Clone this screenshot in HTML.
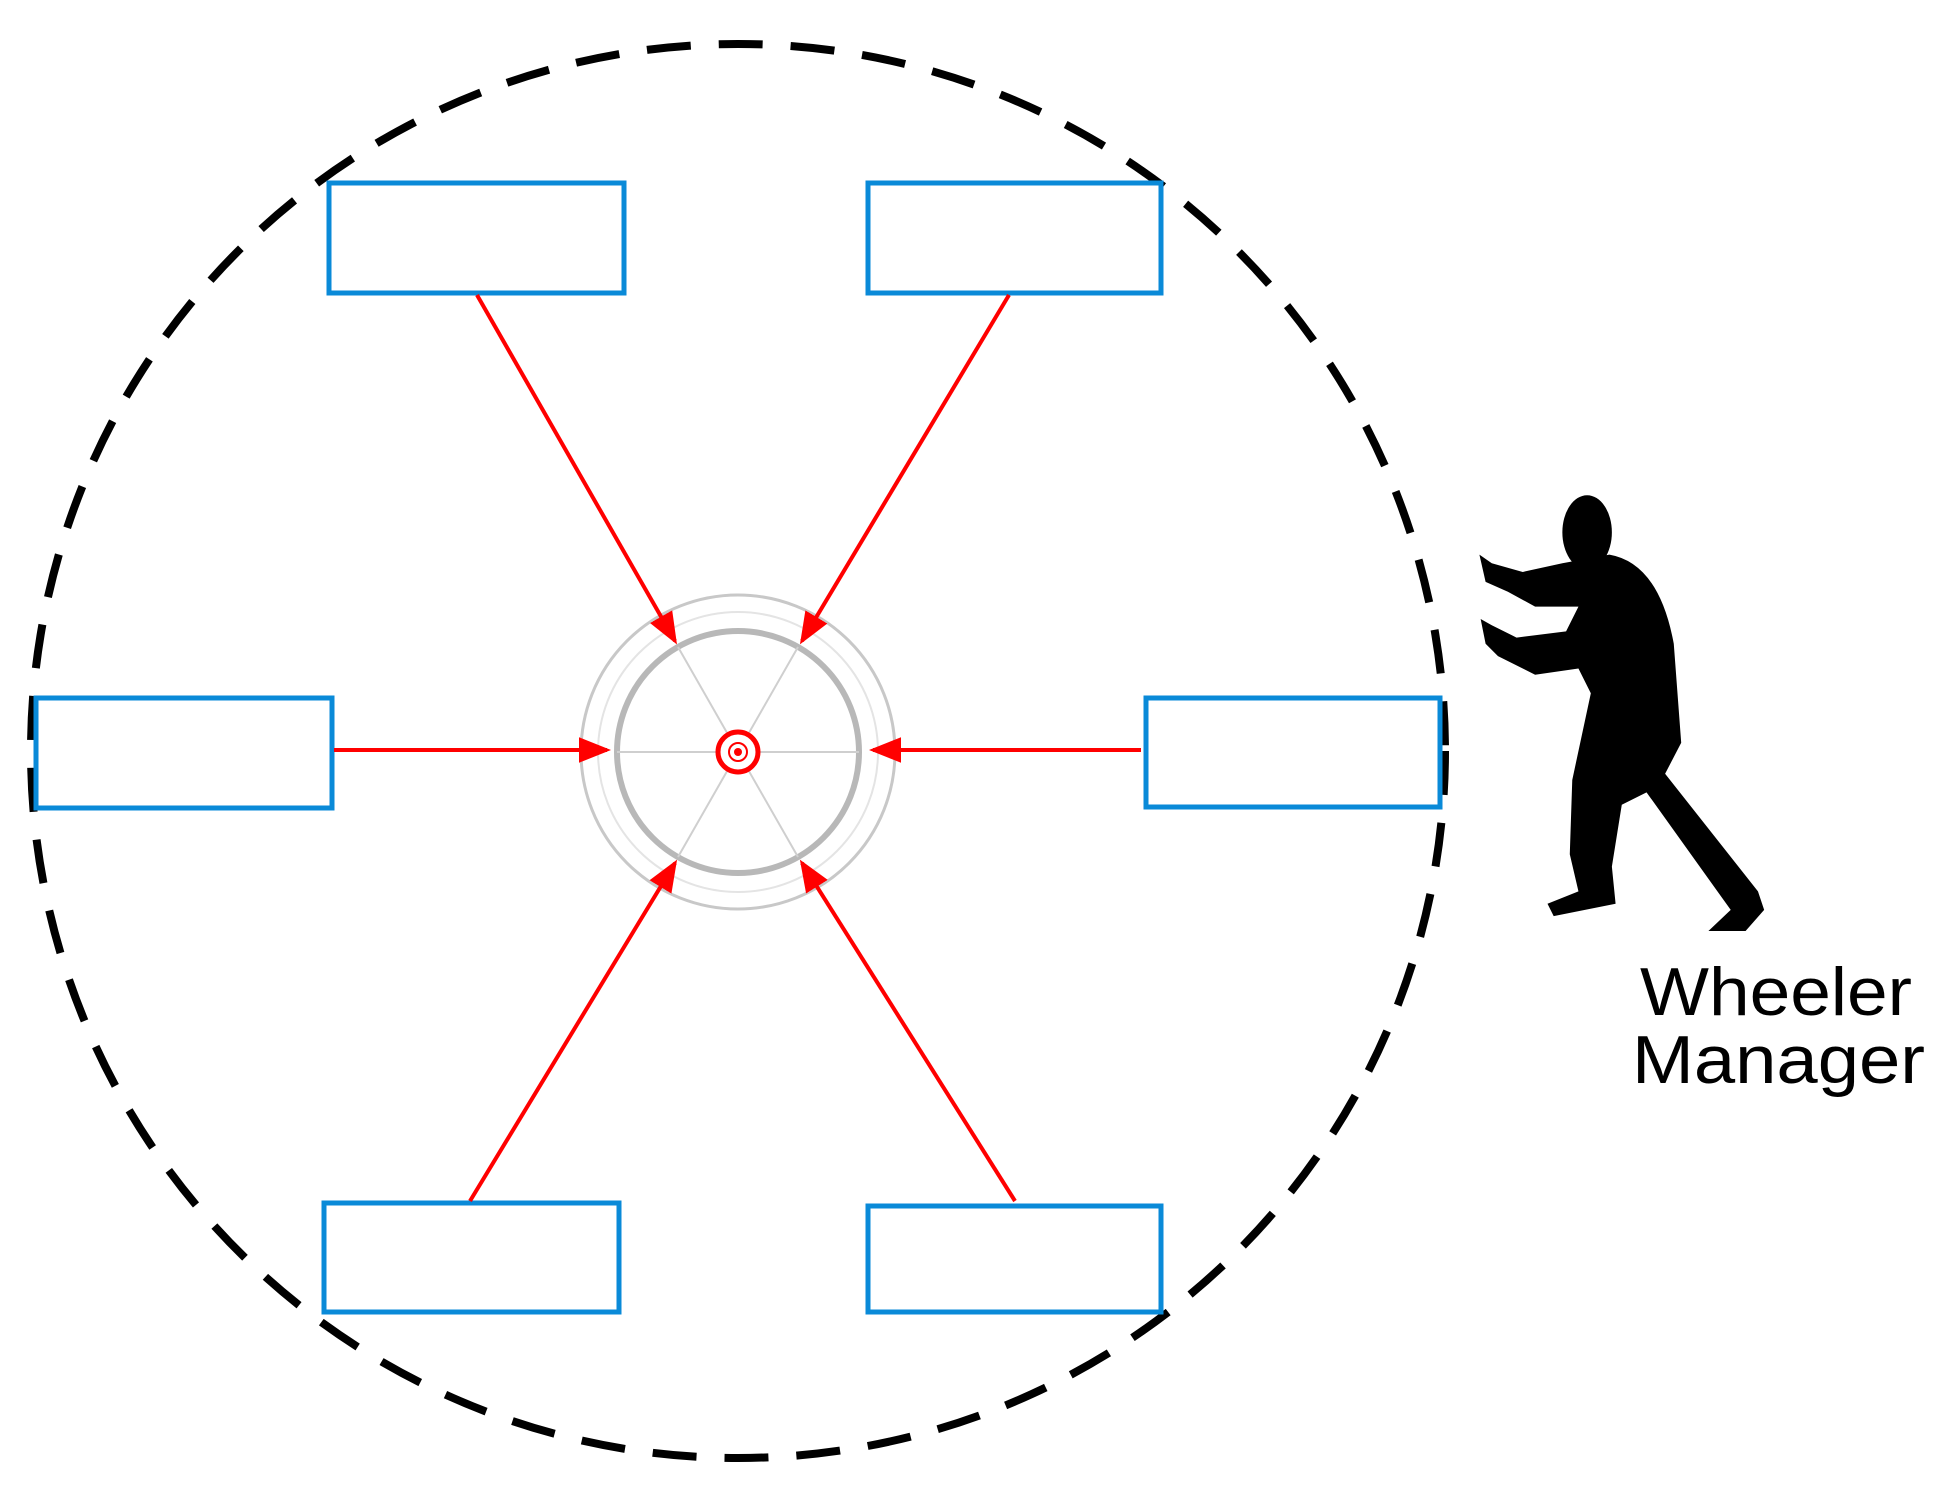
<!DOCTYPE html>
<html><head><meta charset="utf-8"><style>html,body{margin:0;padding:0;background:#fff;}svg{display:block}</style></head>
<body>
<svg width="1941" height="1490" viewBox="0 0 1941 1490" xmlns="http://www.w3.org/2000/svg">
<defs>
<marker id="ah" markerWidth="8" markerHeight="8" refX="7" refY="4" orient="auto" markerUnits="strokeWidth">
<path d="M0,0.8 L8,4 L0,7.2 Z" fill="#ff0000"/>
</marker>
</defs>
<circle cx="738" cy="751" r="707" fill="none" stroke="#000" stroke-width="8" stroke-dasharray="44 28"/>
<circle cx="738" cy="752" r="157" fill="none" stroke="#c8c8c8" stroke-width="3"/>
<circle cx="738" cy="752" r="121" fill="none" stroke="#b8b8b8" stroke-width="6"/>
<circle cx="738" cy="752" r="140" fill="none" stroke="#e4e4e4" stroke-width="2"/>
<g stroke="#cfcfcf" stroke-width="2">
<line x1="617" y1="752" x2="859" y2="752"/>
<line x1="678" y1="647" x2="798" y2="857"/>
<line x1="798" y1="647" x2="678" y2="857"/>
</g>
<circle cx="738" cy="752" r="20" fill="#fff" stroke="#ff0000" stroke-width="5"/>
<circle cx="738" cy="752" r="9" fill="none" stroke="#ff0000" stroke-width="2"/>
<circle cx="738" cy="752" r="4" fill="#ff0000"/>
<g fill="#fff" stroke="#0a8ad8" stroke-width="5">
<rect x="329" y="183" width="295" height="110"/>
<rect x="868" y="183" width="293" height="110"/>
<rect x="36" y="698" width="296" height="110"/>
<rect x="1146" y="698" width="294" height="109"/>
<rect x="324" y="1203" width="295" height="109"/>
<rect x="868" y="1206" width="293" height="106"/>
</g>
<g stroke="#ff0000" stroke-width="4" marker-end="url(#ah)">
<line x1="477" y1="295" x2="675" y2="641"/>
<line x1="1009" y1="295" x2="802" y2="641"/>
<line x1="334" y1="750" x2="607" y2="750"/>
<line x1="1141" y1="750" x2="873" y2="750"/>
<line x1="470" y1="1201" x2="675" y2="863"/>
<line x1="1015" y1="1201" x2="802" y2="863"/>
</g>
<g transform="scale(1.238)" fill="#000">
<ellipse cx="1282" cy="430" rx="20" ry="30"/>
<path d="M1262,455 L1300,448 Q1340,455 1352,520 L1358,600 L1345,625 L1420,720 L1425,735 L1410,752 L1380,752 L1398,735 L1330,640 L1310,650 L1302,700 L1305,730 L1255,740 L1250,730 L1275,720 L1268,690 L1270,630 L1285,560 L1275,540 L1240,545 L1210,530 L1200,520 L1196,500 L1205,505 L1225,515 L1265,510 L1275,490 L1240,490 L1218,478 L1200,470 L1195,448 L1205,455 L1230,462 Z"/>
</g>
<g font-family="'Liberation Sans', sans-serif" font-size="68" fill="#000">
<text x="1640" y="1015" textLength="272" lengthAdjust="spacingAndGlyphs">Wheeler</text>
<text x="1632" y="1083" textLength="293" lengthAdjust="spacingAndGlyphs">Manager</text>
</g>
</svg>
</body></html>
